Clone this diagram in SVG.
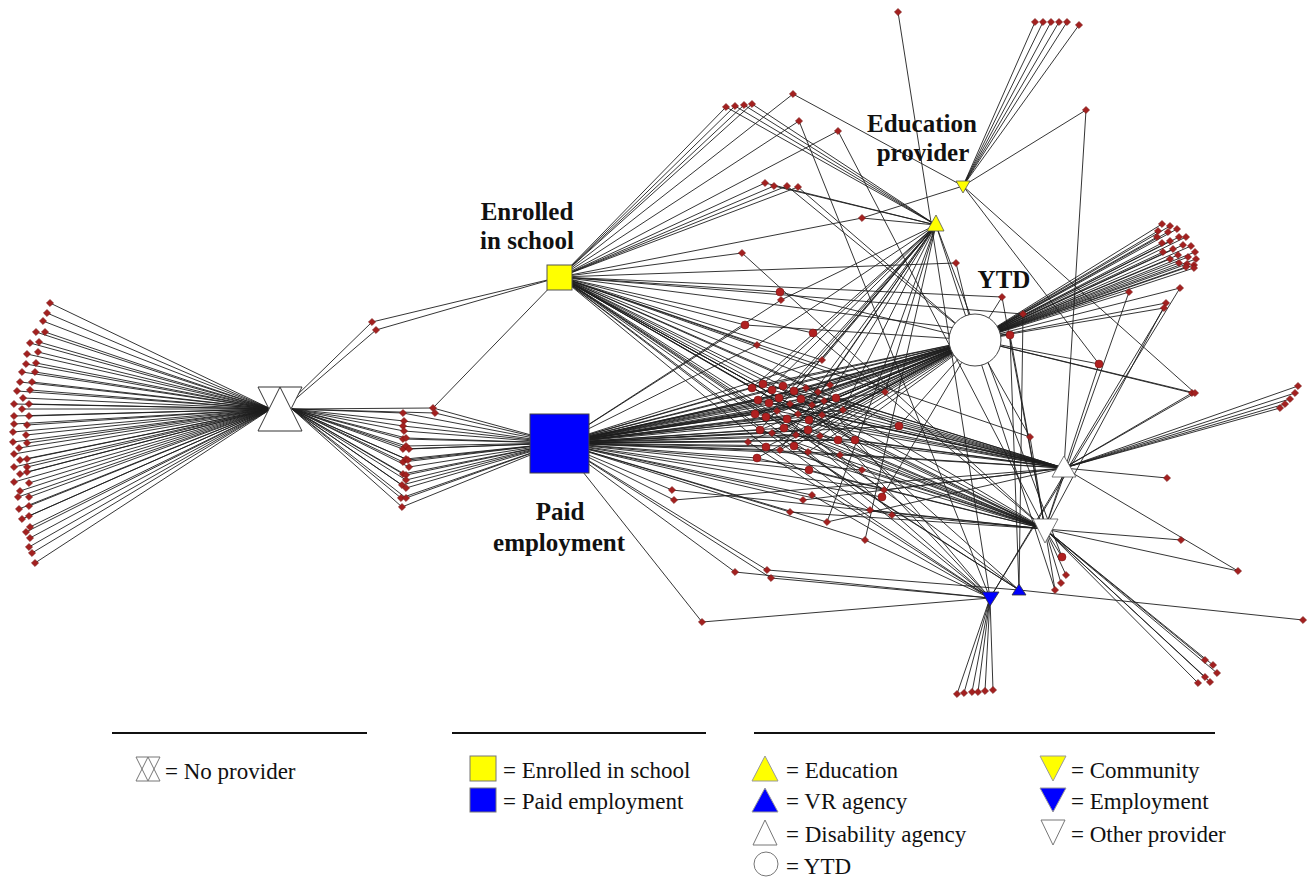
<svg xmlns="http://www.w3.org/2000/svg" width="1314" height="879" viewBox="0 0 1314 879">
<style>
.e{fill:none;stroke:#1e1e1e;stroke-width:0.9}
.lbl{font-family:"Liberation Serif",serif;font-weight:bold;font-size:25px;fill:#111;text-anchor:middle}
.lg{font-family:"Liberation Serif",serif;font-size:23px;fill:#111}
.rule{stroke:#111;stroke-width:2}
.ico{stroke:#777;stroke-width:1}
</style>
<defs>
<path id="d" d="M0,-3.6L3.6,0L0,3.6L-3.6,0Z" fill="#a3201f" stroke="#6e1010" stroke-width="0.5"/>
<circle id="b" r="4" fill="#b02020" stroke="#6e1010" stroke-width="0.5"/>
</defs>
<rect width="1314" height="879" fill="#fff"/>
<g id="connectors">
<path class="e" d="M50 303L271 409M47 313L271 409M43 321L271 409M36 332L271 409M45 332L271 409M30 343L271 409M39 342L271 409M27 354L271 409M38 352L271 409M26 364L271 409M36 363L271 409M22 372L271 409M35 372L271 409M20 382L271 409M32 382L271 409M17 391L271 409M30 390L271 409M23 398L271 409M14 404L271 409M29 404L271 409M22 409L271 409M14 416L271 409M29 416L271 409M14 424L271 409M27 425L271 409M13 432L271 409M26 435L271 409M13 442L271 409M27 443L271 409M19 448L271 409M14 454L271 409M27 459L271 409M20 460L271 409M14 467L271 409M27 467L271 409M20 474L271 409M27 472L271 409M14 482L271 409M29 483L271 409M20 491L271 409M29 497L271 409M18 497L271 409M29 506L271 409M19 509L271 409M29 516L271 409M22 519L271 409M30 527L271 409M26 532L271 409M30 538L271 409M29 547L271 409M32 553L271 409M35 563L271 409"/>
<path class="e" d="M292 409L403 413L560 443M292 409L404 421L560 443M292 409L403 426L560 443M292 409L404 431L560 443M292 409L403 439L560 443M292 409L406 438L560 443M292 409L403 449L560 443M292 409L406 446L560 443M292 409L409 449L560 443M292 409L403 462L560 443M292 409L406 459L560 443M292 409L408 460L560 443M292 409L409 467L560 443M292 409L403 474L560 443M292 409L406 475L560 443M292 409L406 480L560 443M292 409L402 485L560 443M292 409L406 488L560 443M292 409L401 498L560 443M292 409L406 498L560 443M292 409L402 507L560 443"/>
<path class="e" d="M292 400L372 322L560 277M292 402L376 330L560 277M292 409L433 408L560 277M433 408L560 443M292 409L435 413L560 443"/>
<path class="e" d="M560 277L726 107L936 225M560 277L735 106L936 225M560 277L744 105L936 225M560 277L752 104L936 225M560 277L793 94L963 186M560 277L799 121L990 598M560 277L838 131L1045 529M560 277L765 183L936 225M560 277L774 186L936 225M560 277L787 186L975 340M560 277L798 187L975 340M560 277L862 218L936 225M862 218L963 186M898 12L990 598M963 186L1086 110L1064 468M963 186L1035 22M963 186L1043 22M963 186L1051 22M963 186L1059 22M963 186L1067 22M963 186L1079 25M560 277L956 263L975 340M560 277L742 253L1045 529M560 277L780 292L975 340M560 443L781 300L936 225M963 186L1195 393M963 186L1099 364"/>
<path class="e" d="M560 443L752 388L975 340M560 443L763 384L975 340M560 443L772 390L975 340M560 443L783 386L975 340M560 443L794 391L975 340M560 443L806 388L975 340M560 443L818 392L975 340M560 443L758 400L975 340M560 443L769 403L975 340M560 443L779 398L975 340M560 443L790 404L975 340M560 443L801 399L975 340M560 443L812 405L975 340M560 443L824 401L975 340M560 443L755 414L975 340M560 443L766 417L975 340M560 443L777 411L975 340M560 443L787 419L975 340M560 443L798 414L975 340M560 443L809 420L975 340M560 443L822 415L975 340M560 443L760 430L975 340M560 443L772 433L975 340M560 443L784 428L975 340M560 443L796 435L975 340M560 443L808 430L975 340M560 443L820 436L975 340M560 443L766 447L975 340M560 443L780 450L975 340M560 443L794 446L975 340M560 443L808 452L975 340M560 443L748 442L975 340M560 443L757 458L975 340M560 443L830 385L975 340M560 443L836 398L975 340M560 443L843 410L975 340"/>
<path class="e" d="M560 277L752 388M560 277L783 386M560 277L818 392M560 277L779 398M560 277L812 405M560 277L766 417M560 277L798 414M560 277L760 430M560 277L796 435M560 277L766 447M560 277L808 452M560 277L772 390M560 277L790 404M560 277L809 420M560 277L830 385M772 390L1064 468M769 403L1064 468M755 414L1064 468M822 415L1064 468M820 436L1064 468M806 388L1045 529M801 399L1045 529M787 419L1045 529M784 428L1045 529M794 446L1045 529"/>
<path class="e" d="M560 277L1002 297M560 277L1010 335M560 277L1023 314M560 277L899 426M560 277L885 392M560 277L822 360M560 277L745 325M560 277L757 345M560 277L862 470M560 277L855 440M560 277L1030 437M560 277L884 490"/>
<path class="e" d="M936 225L752 388M936 225L763 384M936 225L794 391M936 225L758 400M936 225L779 398M936 225L812 405M936 225L766 417M936 225L798 414M936 225L760 430M936 225L808 430M936 225L780 450M936 225L1062 557M936 225L1055 590M936 225L865 540M936 225L827 522M936 225L843 410"/>
<path class="e" d="M763 384L1064 468M783 386L1064 468M818 392L1064 468M758 400L1064 468M790 404L1064 468M812 405L1064 468M777 411L1064 468M809 420L1064 468M772 433L1064 468M808 452L1064 468M836 398L1064 468M752 388L1045 529M779 398L1045 529M766 417L1045 529M798 414L1045 529M760 430L1045 529M796 435L1045 529M780 450L1045 529M808 430L1045 529M757 458L1045 529M794 391L990 598M824 401L990 598M777 411L990 598M766 447L990 598M808 452L990 598M748 442L990 598M812 405L1019 590M787 419L1019 590M772 433L1019 590M794 446L1019 590"/>
<path class="e" d="M560 443L745 325L975 340M560 443L757 345L936 225M560 277L813 333L1045 529M560 443L822 360L936 225M560 443L838 440L975 340M560 443L840 455L1064 468M560 443L885 392L936 225M560 443L899 426L975 340M899 426L1064 468M560 443L862 470L1045 529M560 443L882 497L975 340M560 443L884 490L1064 468M560 443L892 515L1045 529M560 277L870 510L1045 529M560 443L865 540L990 598M560 443L827 522L1064 468M560 443L809 470L1045 529M560 443L812 495L990 598M560 443L855 440L1064 468M560 443L672 490L1045 529M560 443L674 500L1064 468M560 443L735 572L990 598M560 443L767 570L1019 590M560 443L771 578L990 598M560 443L790 512L1045 529M560 443L803 500L1064 468M975 340L1030 437L1045 529M1064 468L1167 478M1045 529L1181 540M1045 529L1238 571L1064 468M1045 529L1062 557M1045 529L1066 575M1045 529L1061 583M1045 529L1055 590M560 443L702 622L990 598M1019 590L1303 620M975 340L1192 393L1064 468"/>
<path class="e" d="M975 340L1002 297L1045 529M975 340L1023 314L1019 590M975 340L1010 335L1019 590M1010 335L1045 529M975 340L1129 292L1045 529M975 340L1180 288L990 598M975 340L1166 303L1045 529M975 340L1164 308L990 598M975 340L1099 364L1045 529M975 340L1195 393L1064 468"/>
<path class="e" d="M975 340L1162 224M975 340L1170 226M975 340L1158 231M975 340L1168 232M975 340L1177 229M975 340L1157 237M975 340L1179 237M975 340L1186 237M975 340L1162 243M975 340L1170 241M975 340L1183 245M975 340L1191 246M975 340L1163 252M975 340L1173 249M975 340L1195 252M975 340L1170 259M975 340L1178 255M975 340L1188 257M975 340L1196 259M975 340L1179 263M975 340L1187 264M975 340L1194 265M975 340L1186 267M975 340L1194 268"/>
<path class="e" d="M1064 468L1298 386M1064 468L1295 393M1064 468L1290 399M1064 468L1285 404M1064 468L1280 408M990 598L957 694M990 598L964 693M990 598L972 692M990 598L978 692M990 598L985 691M990 598L993 690M1045 529L1205 660M1045 529L1213 665M1045 529L1217 673M1045 529L1205 677M1045 529L1210 682M1045 529L1198 683"/>
</g>
<g id="leaves">
<use href="#d" x="50" y="303"/><use href="#d" x="47" y="313"/><use href="#d" x="43" y="321"/><use href="#d" x="36" y="332"/><use href="#d" x="45" y="332"/><use href="#d" x="30" y="343"/><use href="#d" x="39" y="342"/><use href="#d" x="27" y="354"/><use href="#d" x="38" y="352"/><use href="#d" x="26" y="364"/><use href="#d" x="36" y="363"/><use href="#d" x="22" y="372"/><use href="#d" x="35" y="372"/><use href="#d" x="20" y="382"/><use href="#d" x="32" y="382"/><use href="#d" x="17" y="391"/><use href="#d" x="30" y="390"/><use href="#d" x="23" y="398"/><use href="#d" x="14" y="404"/><use href="#d" x="29" y="404"/><use href="#d" x="22" y="409"/><use href="#d" x="14" y="416"/><use href="#d" x="29" y="416"/><use href="#d" x="14" y="424"/><use href="#d" x="27" y="425"/><use href="#d" x="13" y="432"/><use href="#d" x="26" y="435"/><use href="#d" x="13" y="442"/><use href="#d" x="27" y="443"/><use href="#d" x="19" y="448"/><use href="#d" x="14" y="454"/><use href="#d" x="27" y="459"/><use href="#d" x="20" y="460"/><use href="#d" x="14" y="467"/><use href="#d" x="27" y="467"/><use href="#d" x="20" y="474"/><use href="#d" x="27" y="472"/><use href="#d" x="14" y="482"/><use href="#d" x="29" y="483"/><use href="#d" x="20" y="491"/><use href="#d" x="29" y="497"/><use href="#d" x="18" y="497"/><use href="#d" x="29" y="506"/><use href="#d" x="19" y="509"/><use href="#d" x="29" y="516"/><use href="#d" x="22" y="519"/><use href="#d" x="30" y="527"/><use href="#d" x="26" y="532"/><use href="#d" x="30" y="538"/><use href="#d" x="29" y="547"/><use href="#d" x="32" y="553"/><use href="#d" x="35" y="563"/>
<use href="#d" x="403" y="413"/><use href="#d" x="404" y="421"/><use href="#d" x="403" y="426"/><use href="#d" x="404" y="431"/><use href="#d" x="403" y="439"/><use href="#d" x="406" y="438"/><use href="#d" x="403" y="449"/><use href="#d" x="406" y="446"/><use href="#d" x="409" y="449"/><use href="#d" x="403" y="462"/><use href="#d" x="406" y="459"/><use href="#d" x="408" y="460"/><use href="#d" x="409" y="467"/><use href="#d" x="403" y="474"/><use href="#d" x="406" y="475"/><use href="#d" x="406" y="480"/><use href="#d" x="402" y="485"/><use href="#d" x="406" y="488"/><use href="#d" x="401" y="498"/><use href="#d" x="406" y="498"/><use href="#d" x="402" y="507"/>
<use href="#d" x="372" y="322"/><use href="#d" x="376" y="330"/><use href="#d" x="433" y="408"/><use href="#d" x="435" y="413"/>
<use href="#d" x="726" y="107"/><use href="#d" x="735" y="106"/><use href="#d" x="744" y="105"/><use href="#d" x="752" y="104"/><use href="#d" x="793" y="94"/><use href="#d" x="799" y="121"/><use href="#d" x="838" y="131"/><use href="#d" x="765" y="183"/><use href="#d" x="774" y="186"/><use href="#d" x="787" y="186"/><use href="#d" x="798" y="187"/><use href="#d" x="862" y="218"/><use href="#d" x="898" y="12"/><use href="#d" x="1086" y="110"/>
<use href="#d" x="1035" y="22"/><use href="#d" x="1043" y="22"/><use href="#d" x="1051" y="22"/><use href="#d" x="1059" y="22"/><use href="#d" x="1067" y="22"/><use href="#d" x="1079" y="25"/>
<use href="#d" x="956" y="263"/><use href="#d" x="742" y="253"/><use href="#b" x="780" y="292"/><use href="#d" x="781" y="300"/>
<use href="#b" x="752" y="388"/><use href="#b" x="763" y="384"/><use href="#b" x="772" y="390"/><use href="#b" x="783" y="386"/><use href="#b" x="794" y="391"/><use href="#d" x="806" y="388"/><use href="#d" x="818" y="392"/><use href="#b" x="758" y="400"/><use href="#b" x="769" y="403"/><use href="#b" x="779" y="398"/><use href="#d" x="790" y="404"/><use href="#b" x="801" y="399"/><use href="#d" x="812" y="405"/><use href="#d" x="824" y="401"/><use href="#b" x="755" y="414"/><use href="#b" x="766" y="417"/><use href="#d" x="777" y="411"/><use href="#b" x="787" y="419"/><use href="#d" x="798" y="414"/><use href="#b" x="809" y="420"/><use href="#d" x="822" y="415"/><use href="#b" x="760" y="430"/><use href="#d" x="772" y="433"/><use href="#b" x="784" y="428"/><use href="#d" x="796" y="435"/><use href="#b" x="808" y="430"/><use href="#d" x="820" y="436"/><use href="#b" x="766" y="447"/><use href="#d" x="780" y="450"/><use href="#b" x="794" y="446"/><use href="#d" x="808" y="452"/><use href="#d" x="748" y="442"/><use href="#b" x="757" y="458"/><use href="#d" x="830" y="385"/><use href="#b" x="836" y="398"/><use href="#d" x="843" y="410"/>
<use href="#b" x="745" y="325"/><use href="#d" x="757" y="345"/><use href="#b" x="813" y="333"/><use href="#d" x="822" y="360"/><use href="#b" x="838" y="440"/><use href="#d" x="840" y="455"/><use href="#d" x="885" y="392"/><use href="#b" x="899" y="426"/><use href="#d" x="862" y="470"/><use href="#b" x="882" y="497"/><use href="#d" x="884" y="490"/><use href="#d" x="892" y="515"/><use href="#d" x="870" y="510"/><use href="#d" x="865" y="540"/><use href="#d" x="827" y="522"/><use href="#b" x="809" y="470"/><use href="#d" x="812" y="495"/><use href="#b" x="855" y="440"/><use href="#d" x="672" y="490"/><use href="#d" x="674" y="500"/><use href="#d" x="735" y="572"/><use href="#d" x="767" y="570"/><use href="#d" x="771" y="578"/><use href="#d" x="790" y="512"/><use href="#d" x="803" y="500"/><use href="#d" x="1030" y="437"/><use href="#d" x="1167" y="478"/><use href="#d" x="1181" y="540"/><use href="#d" x="1238" y="571"/><use href="#b" x="1062" y="557"/><use href="#d" x="1066" y="575"/><use href="#d" x="1061" y="583"/><use href="#d" x="1055" y="590"/><use href="#d" x="702" y="622"/><use href="#d" x="1303" y="620"/><use href="#d" x="1192" y="393"/>
<use href="#d" x="1002" y="297"/><use href="#d" x="1023" y="314"/><use href="#b" x="1010" y="335"/><use href="#d" x="1129" y="292"/><use href="#d" x="1180" y="288"/><use href="#d" x="1166" y="303"/><use href="#d" x="1164" y="308"/><use href="#b" x="1099" y="364"/><use href="#d" x="1195" y="393"/>
<use href="#d" x="1162" y="224"/><use href="#d" x="1170" y="226"/><use href="#d" x="1158" y="231"/><use href="#d" x="1168" y="232"/><use href="#d" x="1177" y="229"/><use href="#d" x="1157" y="237"/><use href="#d" x="1179" y="237"/><use href="#d" x="1186" y="237"/><use href="#d" x="1162" y="243"/><use href="#d" x="1170" y="241"/><use href="#d" x="1183" y="245"/><use href="#d" x="1191" y="246"/><use href="#d" x="1163" y="252"/><use href="#d" x="1173" y="249"/><use href="#d" x="1195" y="252"/><use href="#d" x="1170" y="259"/><use href="#d" x="1178" y="255"/><use href="#d" x="1188" y="257"/><use href="#d" x="1196" y="259"/><use href="#d" x="1179" y="263"/><use href="#d" x="1187" y="264"/><use href="#d" x="1194" y="265"/><use href="#d" x="1186" y="267"/><use href="#d" x="1194" y="268"/>
<use href="#d" x="1298" y="386"/><use href="#d" x="1295" y="393"/><use href="#d" x="1290" y="399"/><use href="#d" x="1285" y="404"/><use href="#d" x="1280" y="408"/>
<use href="#d" x="957" y="694"/><use href="#d" x="964" y="693"/><use href="#d" x="972" y="692"/><use href="#d" x="978" y="692"/><use href="#d" x="985" y="691"/><use href="#d" x="993" y="690"/>
<use href="#d" x="1205" y="660"/><use href="#d" x="1213" y="665"/><use href="#d" x="1217" y="673"/><use href="#d" x="1205" y="677"/><use href="#d" x="1210" y="682"/><use href="#d" x="1198" y="683"/>
</g>
<g id="no-provider">
<polygon points="258,387 302,387 280,431" fill="#fff" stroke="#333" stroke-width="1"/>
<polygon points="258,431 302,431 280,387" fill="#fff" stroke="#333" stroke-width="1"/>
</g>
<g id="enrolled">
<rect x="547" y="265" width="25" height="25" fill="#ffff00" stroke="#555" stroke-width="1"/>
<text class="lbl" x="527" y="220">Enrolled</text>
<text class="lbl" x="527" y="249">in school</text>
</g>
<g id="paid">
<rect x="530" y="414" width="59" height="59" fill="#0000ff" stroke="#444" stroke-width="1"/>
<text class="lbl" x="560" y="520">Paid</text>
<text class="lbl" x="559" y="551">employment</text>
</g>
<g id="education">
<polygon points="927,231 944,231 936,215" fill="#ffff00" stroke="#555" stroke-width="0.8"/>
</g>
<g id="community">
<polygon points="956,181 970,181 963,193" fill="#ffff00" stroke="#555" stroke-width="0.8"/>
<text class="lbl" x="922" y="132">Education</text>
<text class="lbl" x="923" y="161">provider</text>
</g>
<g id="ytd">
<circle cx="975" cy="340" r="26" fill="#fff" stroke="#444" stroke-width="1"/>
<text class="lbl" x="1004" y="288">YTD</text>
</g>
<g id="disability">
<polygon points="1052,477 1076,477 1064,456" fill="#fff" stroke="#555" stroke-width="0.8"/>
</g>
<g id="other">
<polygon points="1033,519 1058,519 1045,543" fill="#fff" stroke="#555" stroke-width="0.8"/>
</g>
<g id="employment">
<polygon points="982,592 999,592 990,606" fill="#0000ff" stroke="#333" stroke-width="0.8"/>
</g>
<g id="vr">
<polygon points="1012,595 1026,595 1019,584" fill="#0000ff" stroke="#333" stroke-width="0.8"/>
</g>
<g id="legend">
<line class="rule" x1="112" y1="733" x2="367" y2="733"/>
<line class="rule" x1="452" y1="733" x2="706" y2="733"/>
<line class="rule" x1="754" y1="733" x2="1215" y2="733"/>
<polygon class="ico" points="136,757 160,757 148,781" fill="#fff"/>
<polygon class="ico" points="136,781 160,781 148,757" fill="none"/>
<text class="lg" x="165" y="779">= No provider</text>
<rect x="470" y="756" width="26" height="25" fill="#ffff00" stroke="#777"/>
<rect x="470" y="788" width="26" height="24" fill="#0000ff" stroke="#777"/>
<text class="lg" x="503" y="778">= Enrolled in school</text>
<text class="lg" x="503" y="809">= Paid employment</text>
<polygon points="752,781 778,781 765,756" fill="#ffff00" stroke="#999"/>
<polygon points="752,812 778,812 765,788" fill="#0000ff" stroke="#999"/>
<polygon class="ico" points="753,845 777,845 765,820" fill="#fff"/>
<circle class="ico" cx="766" cy="864" r="12" fill="#fff"/>
<text class="lg" x="786" y="778">= Education</text>
<text class="lg" x="786" y="809">= VR agency</text>
<text class="lg" x="786" y="842">= Disability agency</text>
<text class="lg" x="786" y="874">= YTD</text>
<polygon points="1040,756 1066,756 1053,781" fill="#ffff00" stroke="#999"/>
<polygon points="1040,788 1066,788 1053,812" fill="#0000ff" stroke="#999"/>
<polygon class="ico" points="1041,820 1065,820 1053,845" fill="#fff"/>
<text class="lg" x="1071" y="778">= Community</text>
<text class="lg" x="1071" y="809">= Employment</text>
<text class="lg" x="1071" y="842">= Other provider</text>
</g>
</svg>
